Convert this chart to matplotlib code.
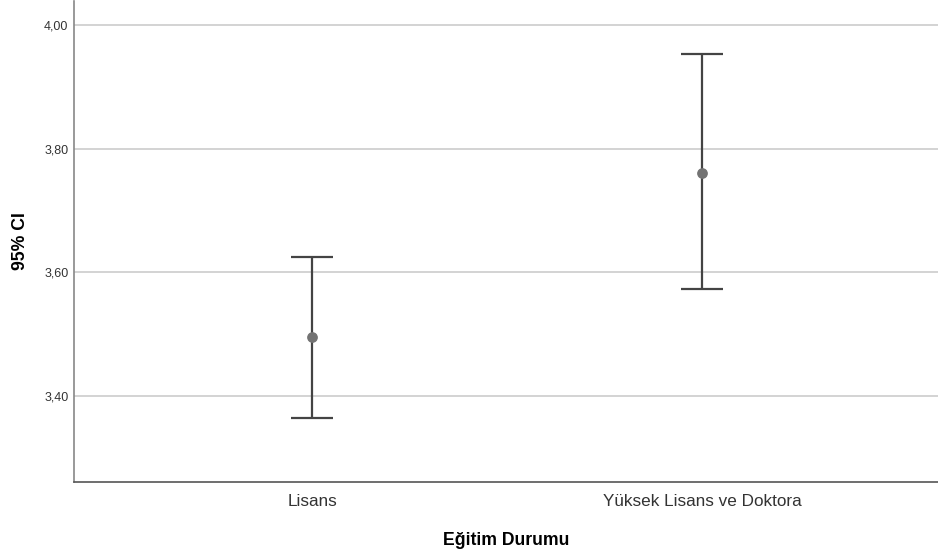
import matplotlib
matplotlib.use("Agg")
import matplotlib.pyplot as plt

plt.rcParams['font.family'] = ['Liberation Sans', 'DejaVu Sans']

groups = ["Lisans", "Yüksek Lisans ve Doktora"]
means = [3.495, 3.761]
lower = [3.365, 3.573]
upper = [3.625, 3.953]
yticks = [3.40, 3.60, 3.80, 4.00]
ytick_labels = ["3,40", "3,60", "3,80", "4,00"]

fig = plt.figure(figsize=(9.38, 5.51), dpi=100)
ax = fig.add_axes([74 / 938, 1 - 482 / 551, 1 - 74 / 938, 481 / 551])

x = list(range(len(groups)))
err = [[m - l for m, l in zip(means, lower)], [u - m for m, u in zip(means, upper)]]
ax.errorbar(x, means, yerr=err, fmt='none', ecolor='#444444', elinewidth=1.6,
            capsize=15, capthick=1.6, zorder=3)
ax.scatter(x, means, color='#737373', s=45, zorder=4)

ax.set_xlim(-0.611, 1.604)
ax.set_ylim(3.261, 4.039)
ax.set_yticks(yticks)
ax.set_yticklabels(ytick_labels, fontsize=9)
ax.set_xticks(x)
ax.set_xticklabels(groups, fontsize=12.3)
ax.tick_params(axis='both', length=0, colors='#333333')
ax.tick_params(axis='y', pad=4)
ax.tick_params(axis='x', pad=9)

ax.grid(axis='y', color='#c8c8c8', linewidth=1.1)
ax.set_axisbelow(True)
for s in ['top', 'right']:
    ax.spines[s].set_visible(False)
ax.spines['left'].set_color('#888888')
ax.spines['bottom'].set_color('#555555')
ax.spines['left'].set_linewidth(1.2)
ax.spines['bottom'].set_linewidth(1.2)

ax.set_xlabel("Eğitim Durumu", fontsize=12.7, fontweight='bold', labelpad=16)
ax.set_ylabel("95% CI", fontsize=12.7, fontweight='bold', labelpad=11)

fig.savefig("out.png", dpi=100)
